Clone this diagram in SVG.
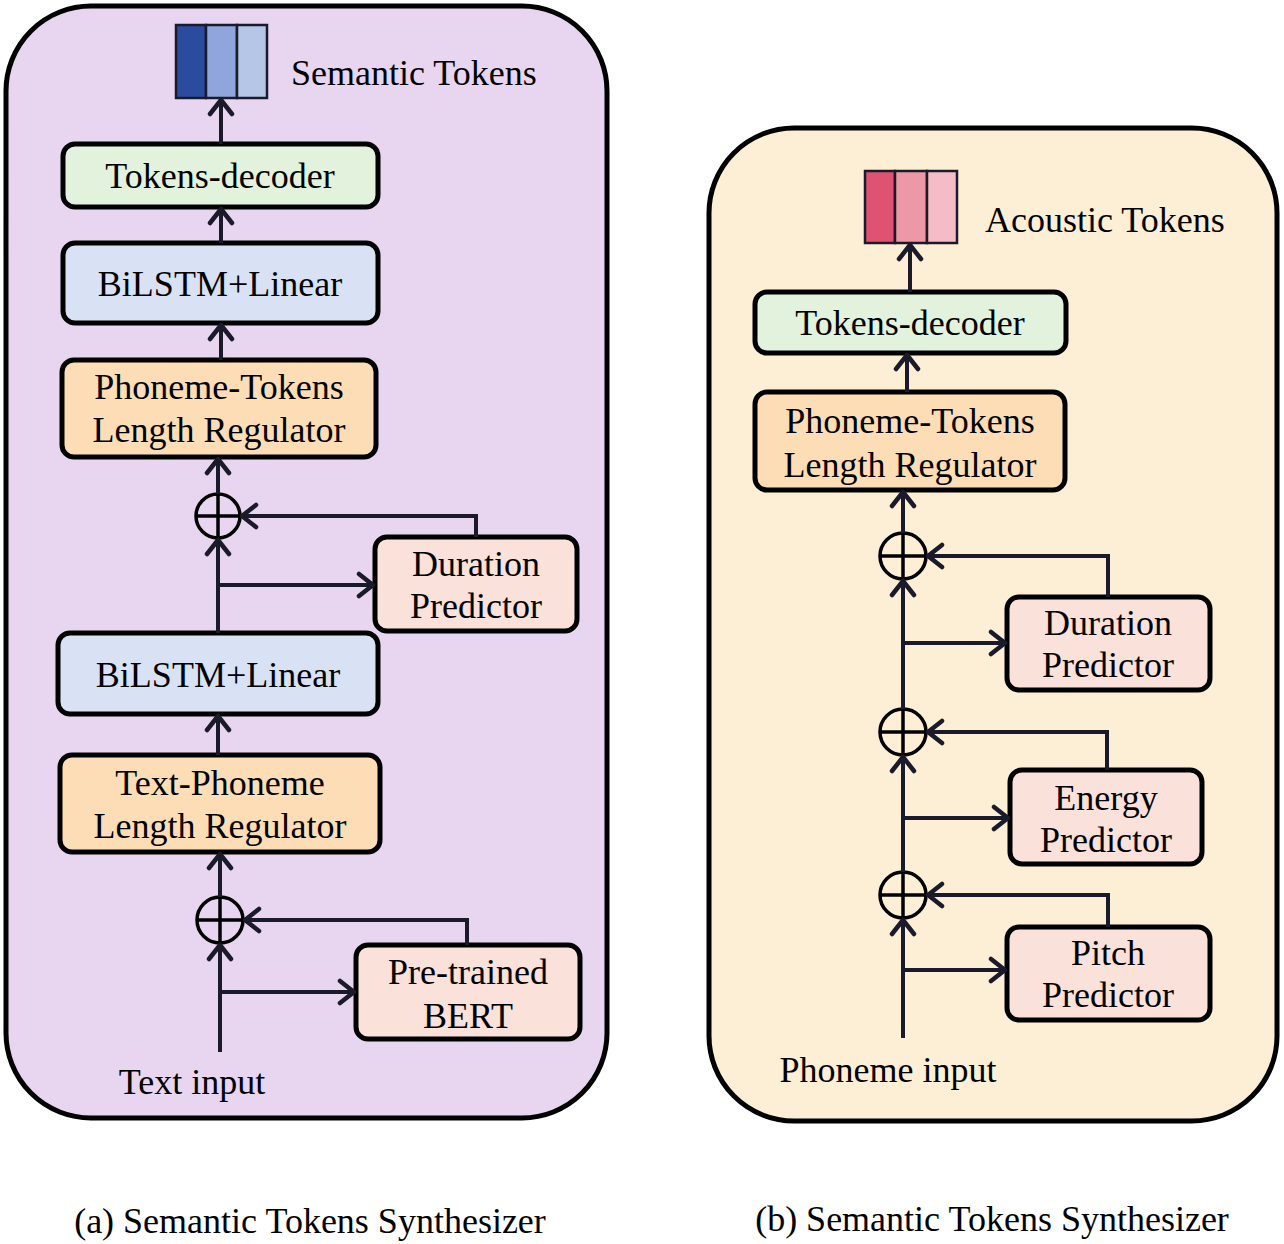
<svg xmlns="http://www.w3.org/2000/svg" width="1284" height="1244" viewBox="0 0 1284 1244">
<defs>
<marker id="ah" markerUnits="userSpaceOnUse" viewBox="-18 -15 21 30" refX="0" refY="0" markerWidth="21" markerHeight="30" orient="auto">
<path d="M-14,-11 L0,0 L-14,11" fill="none" stroke="#1a1a2a" stroke-width="4.5" stroke-linecap="round" stroke-linejoin="round"/>
</marker>
<style>
.panel{stroke:#000;stroke-width:5}
.box{stroke:#000;stroke-width:5}
.t{font-family:"Liberation Serif","Times New Roman",serif;font-size:36px;fill:#000;text-anchor:middle}
.lbl{font-family:"Liberation Serif","Times New Roman",serif;font-size:36px;fill:#000}
.cap{font-family:"Liberation Serif","Times New Roman",serif;font-size:36px;fill:#000;text-anchor:middle}
.a{fill:none;stroke:#1a1a2a;stroke-width:4;marker-end:url(#ah)}
.plus{fill:none;stroke:#000;stroke-width:3.5}
.green{fill:#E3F2DC}
.blue{fill:#D9E2F4}
.orange{fill:#FCDDB5}
.pink{fill:#FAE1D9}
.tok{stroke:#1a1a2a;stroke-width:2.5}
</style>
</defs>
<rect width="1284" height="1244" fill="#fff"/>
<g id="panel-a">
<rect class="panel" x="6" y="6" width="601" height="1112" rx="85" fill="#E8D6F0"/>
</g>
<g id="panel-b">
<rect class="panel" x="709" y="128" width="568" height="993" rx="85" fill="#FCEFD5"/>
</g>

<g id="semantic-tokens">
<rect class="tok" x="176" y="25" width="30" height="73" fill="#2B4C9E"/>
<rect class="tok" x="206" y="25" width="31" height="73" fill="#8FA5DC"/>
<rect class="tok" x="237" y="25" width="30" height="73" fill="#B5C6E7"/>
<text class="lbl" x="291" y="85">Semantic Tokens</text>
</g>
<g id="a-tokens-decoder">
<rect class="box green" x="63" y="144" width="315" height="63" rx="12"/>
<text class="t" x="220" y="188">Tokens-decoder</text>
</g>
<g id="a-bilstm1">
<rect class="box blue" x="63" y="243" width="315" height="80" rx="12"/>
<text class="t" x="220" y="296">BiLSTM+Linear</text>
</g>
<g id="a-ptlr">
<rect class="box orange" x="62" y="360" width="314" height="97" rx="12"/>
<text class="t" x="219" y="399">Phoneme-Tokens</text>
<text class="t" x="219" y="442">Length Regulator</text>
</g>
<g id="a-plus1">
<circle class="plus" cx="218" cy="516" r="22"/>
<path class="plus" d="M196,516 H240 M218,494 V538"/>
</g>
<g id="a-duration">
<rect class="box pink" x="375" y="537" width="202" height="94" rx="12"/>
<text class="t" x="476" y="576">Duration</text>
<text class="t" x="476" y="618">Predictor</text>
</g>
<g id="a-bilstm2">
<rect class="box blue" x="58" y="633" width="320" height="81" rx="12"/>
<text class="t" x="218" y="687">BiLSTM+Linear</text>
</g>
<g id="a-tplr">
<rect class="box orange" x="60" y="755" width="320" height="97" rx="12"/>
<text class="t" x="220" y="795">Text-Phoneme</text>
<text class="t" x="220" y="838">Length Regulator</text>
</g>
<g id="a-plus2">
<circle class="plus" cx="220" cy="920" r="23"/>
<path class="plus" d="M197,920 H243 M220,897 V943"/>
</g>
<g id="a-bert">
<rect class="box pink" x="356" y="945" width="224" height="94" rx="12"/>
<text class="t" x="468" y="984">Pre-trained</text>
<text class="t" x="468" y="1028">BERT</text>
</g>
<g id="a-input">
<text class="t" x="192" y="1094">Text input</text>
</g>

<g id="acoustic-tokens">
<rect class="tok" x="865" y="171" width="30" height="72" fill="#E05272"/>
<rect class="tok" x="895" y="171" width="32" height="72" fill="#EC98A6"/>
<rect class="tok" x="927" y="171" width="30" height="72" fill="#F4BCC6"/>
<text class="lbl" x="985" y="232">Acoustic Tokens</text>
</g>
<g id="b-tokens-decoder">
<rect class="box green" x="755" y="292" width="311" height="61" rx="12"/>
<text class="t" x="910" y="335">Tokens-decoder</text>
</g>
<g id="b-ptlr">
<rect class="box orange" x="755" y="392" width="310" height="98" rx="12"/>
<text class="t" x="910" y="433">Phoneme-Tokens</text>
<text class="t" x="910" y="477">Length Regulator</text>
</g>
<g id="b-plus1">
<circle class="plus" cx="903" cy="556" r="23"/>
<path class="plus" d="M880,556 H926 M903,533 V579"/>
</g>
<g id="b-duration">
<rect class="box pink" x="1007" y="597" width="203" height="93" rx="12"/>
<text class="t" x="1108" y="635">Duration</text>
<text class="t" x="1108" y="677">Predictor</text>
</g>
<g id="b-plus2">
<circle class="plus" cx="903" cy="732" r="23"/>
<path class="plus" d="M880,732 H926 M903,709 V755"/>
</g>
<g id="b-energy">
<rect class="box pink" x="1010" y="770" width="192" height="94" rx="12"/>
<text class="t" x="1106" y="810">Energy</text>
<text class="t" x="1106" y="852">Predictor</text>
</g>
<g id="b-plus3">
<circle class="plus" cx="903" cy="895" r="23"/>
<path class="plus" d="M880,895 H926 M903,872 V918"/>
</g>
<g id="b-pitch">
<rect class="box pink" x="1007" y="927" width="203" height="93" rx="12"/>
<text class="t" x="1108" y="965">Pitch</text>
<text class="t" x="1108" y="1007">Predictor</text>
</g>
<g id="b-input">
<text class="t" x="888" y="1082">Phoneme input</text>
</g>

<g id="connectors">
<path class="a" d="M221,144 V100"/>
<path class="a" d="M221,243 V209"/>
<path class="a" d="M221,360 V325"/>
<path class="a" d="M218,494 V459"/>
<path class="a" d="M476,537 V516 H242"/>
<path class="a" d="M218,633 V540"/>
<path class="a" d="M218,585 H373"/>
<path class="a" d="M218,755 V716"/>
<path class="a" d="M220,897 V854"/>
<path class="a" d="M467,945 V920 H245"/>
<path class="a" d="M220,1052 V945"/>
<path class="a" d="M220,992 H354"/>

<path class="a" d="M910,292 V245"/>
<path class="a" d="M907,392 V355"/>
<path class="a" d="M903,533 V492"/>
<path class="a" d="M1108,597 V556 H928"/>
<path class="a" d="M903,709 V581"/>
<path class="a" d="M903,643 H1005"/>
<path class="a" d="M1107,770 V732 H928"/>
<path class="a" d="M903,872 V757"/>
<path class="a" d="M903,818 H1008"/>
<path class="a" d="M1108,927 V895 H928"/>
<path class="a" d="M903,1038 V920"/>
<path class="a" d="M903,970 H1005"/>
</g>

<g id="captions">
<text class="cap" x="310" y="1233">(a) Semantic Tokens Synthesizer</text>
<text class="cap" x="992" y="1231">(b) Semantic Tokens Synthesizer</text>
</g>
</svg>
